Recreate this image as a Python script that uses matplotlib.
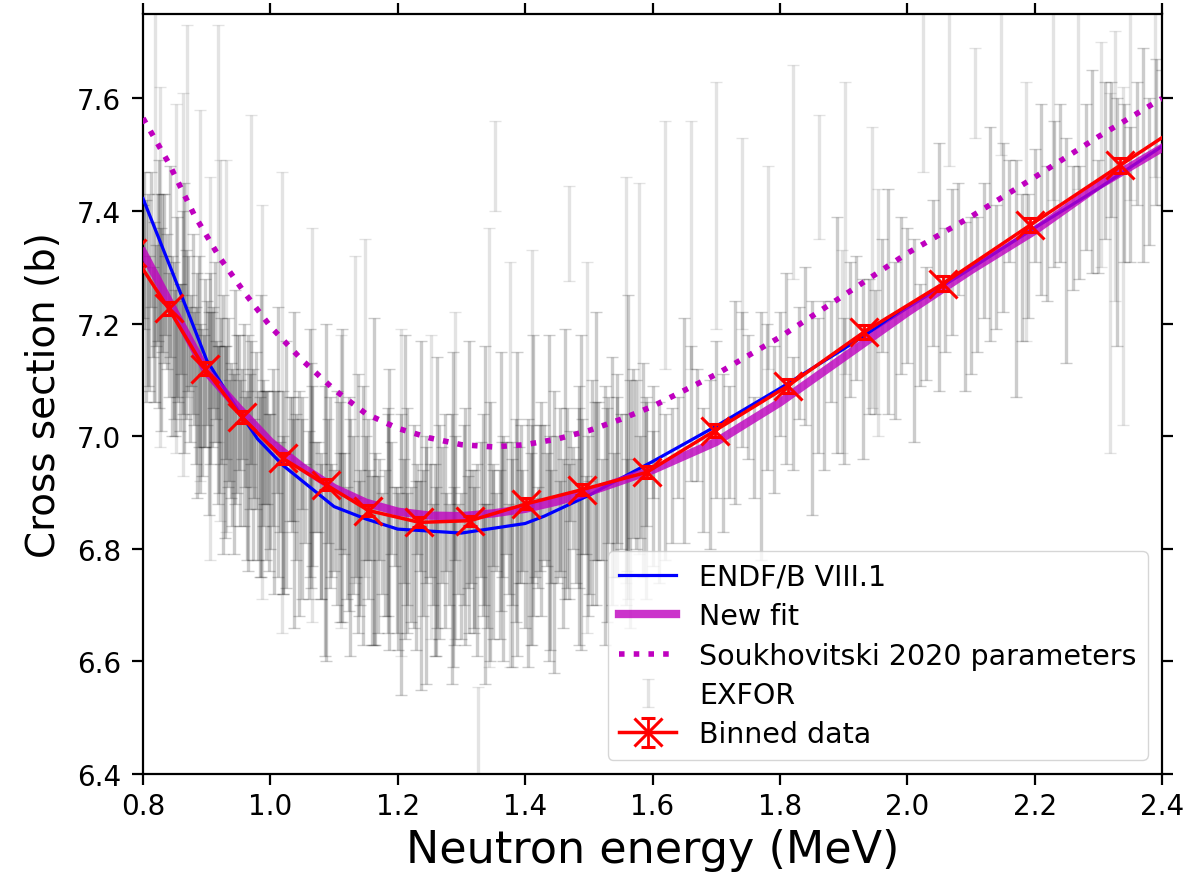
import numpy as np
import matplotlib
matplotlib.use('Agg')
import matplotlib.pyplot as plt

# ---- evaluated / model curves (MeV, barn) ----
endf_e = [0.80, 0.85, 0.90, 0.95, 0.98, 1.02, 1.10, 1.15, 1.20, 1.30, 1.40, 1.43,
          1.50, 1.60, 1.70, 1.80, 1.90, 2.00, 2.10, 2.20, 2.30, 2.40]
endf_s = [7.422, 7.280, 7.135, 7.045, 6.995, 6.948, 6.875, 6.853, 6.835, 6.828, 6.845, 6.858,
          6.895, 6.955, 7.018, 7.085, 7.155, 7.228, 7.298, 7.370, 7.440, 7.515]

fit_e = [0.80, 0.85, 0.90, 0.95, 1.00, 1.05, 1.10, 1.15, 1.20, 1.25, 1.30, 1.35,
         1.40, 1.45, 1.50, 1.60, 1.70, 1.80, 1.90, 2.00, 2.10, 2.20, 2.30, 2.40]
fit_s = [7.327, 7.220, 7.114, 7.050, 6.990, 6.945, 6.908, 6.882, 6.866, 6.859, 6.858, 6.863,
         6.871, 6.884, 6.901, 6.940, 6.990, 7.060, 7.140, 7.220, 7.295, 7.365, 7.445, 7.512]

souk_e = [0.80, 0.84, 0.88, 0.92, 0.96, 1.00, 1.05, 1.10, 1.15, 1.20, 1.25, 1.30, 1.35,
          1.40, 1.45, 1.50, 1.55, 1.60, 1.70, 1.80, 1.90, 2.00, 2.10, 2.20, 2.30, 2.40]
souk_s = [7.565, 7.486, 7.394, 7.318, 7.254, 7.195, 7.135, 7.083, 7.040, 7.014, 6.997, 6.985, 6.981,
          6.985, 6.995, 7.010, 7.030, 7.053, 7.110, 7.176, 7.250, 7.325, 7.390, 7.460, 7.532, 7.600]

# ---- binned experimental data ----
bin_e = [0.783, 0.840, 0.897, 0.955, 1.019, 1.087, 1.154, 1.234, 1.314, 1.402, 1.489,
         1.591, 1.698, 1.812, 1.932, 2.056, 2.193, 2.334, 2.480]
bin_s = [7.326, 7.227, 7.120, 7.034, 6.961, 6.914, 6.868, 6.847, 6.850, 6.880, 6.905,
         6.936, 7.010, 7.089, 7.185, 7.271, 7.375, 7.481, 7.590]
bin_d = [0.014, 0.012, 0.011, 0.010, 0.010, 0.010, 0.009, 0.009, 0.009, 0.010, 0.010,
         0.011, 0.011, 0.012, 0.012, 0.013, 0.013, 0.014, 0.016]

# ---- EXFOR sets ----
exA_e = [0.80, 0.81, 0.82, 0.83, 0.84, 0.85, 0.86, 0.87, 0.88, 0.89,
         0.90, 0.91, 0.92, 0.93, 0.94, 0.95, 0.96, 0.97, 0.98, 0.99,
         1.00, 1.01, 1.02, 1.03, 1.04, 1.05, 1.06, 1.07, 1.08, 1.09,
         1.10, 1.11, 1.12, 1.13, 1.14, 1.15, 1.16, 1.17, 1.18, 1.19,
         1.20, 1.21, 1.22, 1.23, 1.24, 1.25, 1.26, 1.27, 1.28, 1.29,
         1.30, 1.31, 1.32, 1.33, 1.34, 1.35, 1.36, 1.37, 1.38, 1.39,
         1.40, 1.41, 1.42, 1.43, 1.44, 1.45, 1.46, 1.47, 1.48, 1.49,
         1.50, 1.51, 1.52, 1.53, 1.54, 1.55, 1.56, 1.57, 1.58, 1.59, 1.60]
exA_s = [7.31, 7.20, 7.25, 7.29, 7.18, 7.13, 7.19, 7.20, 7.12, 7.05,
         7.13, 7.14, 7.03, 7.06, 6.98, 7.06, 6.99, 7.06, 6.93, 6.98,
         6.92, 6.99, 6.86, 6.96, 6.91, 6.97, 6.86, 6.91, 6.83, 6.92,
         6.85, 6.93, 6.81, 6.86, 6.82, 6.89, 6.78, 6.87, 6.81, 6.89,
         6.76, 6.85, 6.79, 6.87, 6.81, 6.85, 6.76, 6.86, 6.79, 6.89,
         6.77, 6.83, 6.80, 6.87, 6.77, 6.86, 6.79, 6.89, 6.83, 6.86,
         6.77, 6.88, 6.82, 6.90, 6.84, 6.87, 6.81, 6.93, 6.85, 6.91,
         6.82, 6.92, 6.87, 6.94, 6.86, 6.92, 6.86, 6.97, 6.91, 6.95, 6.89]
exA_d = [0.10, 0.12, 0.09, 0.14, 0.11, 0.13, 0.08, 0.12, 0.10, 0.15,
         0.11, 0.09, 0.13, 0.10, 0.14, 0.12, 0.08, 0.11, 0.15, 0.10,
         0.12, 0.09, 0.14, 0.11, 0.13, 0.10, 0.15, 0.08, 0.12, 0.11,
         0.09, 0.13, 0.10, 0.14, 0.12, 0.11, 0.15, 0.09, 0.13, 0.10,
         0.14, 0.11, 0.12, 0.08, 0.13, 0.10, 0.15, 0.12, 0.09, 0.11,
         0.13, 0.10, 0.14, 0.12, 0.11, 0.09, 0.15, 0.10, 0.13, 0.12,
         0.11, 0.14, 0.09, 0.12, 0.10, 0.13, 0.15, 0.08, 0.11, 0.12,
         0.10, 0.14, 0.09, 0.13, 0.11, 0.12, 0.10, 0.15, 0.09, 0.11, 0.12]

exB_e = [0.805, 0.825, 0.845, 0.865, 0.885, 0.905, 0.925, 0.945, 0.965, 0.985,
         1.005, 1.025, 1.045, 1.065, 1.085, 1.105, 1.125, 1.145, 1.165, 1.185,
         1.205, 1.225, 1.245, 1.265, 1.285, 1.305, 1.325, 1.345, 1.365, 1.385,
         1.405, 1.425, 1.445, 1.465, 1.485, 1.505, 1.525, 1.545, 1.565, 1.585]
exB_s = [7.24, 7.27, 7.16, 7.21, 7.09, 7.12, 7.02, 7.07, 6.97, 7.00,
         6.90, 6.95, 6.88, 6.93, 6.85, 6.89, 6.82, 6.86, 6.80, 6.85,
         6.79, 6.84, 6.78, 6.83, 6.80, 6.84, 6.78, 6.83, 6.80, 6.85,
         6.81, 6.87, 6.83, 6.89, 6.84, 6.90, 6.86, 6.93, 6.88, 6.94]
exB_d = [0.18, 0.22, 0.16, 0.24, 0.20, 0.17, 0.23, 0.19, 0.21, 0.25,
         0.18, 0.22, 0.20, 0.16, 0.24, 0.19, 0.21, 0.23, 0.17, 0.20,
         0.25, 0.18, 0.22, 0.19, 0.24, 0.21, 0.17, 0.23, 0.20, 0.18,
         0.22, 0.19, 0.25, 0.16, 0.21, 0.20, 0.23, 0.18, 0.22, 0.19]

exF_e = [0.815, 0.835, 0.855, 0.875, 0.895, 0.915, 0.935, 0.955, 0.975, 0.995,
         1.015, 1.035, 1.055, 1.075, 1.095, 1.115, 1.135, 1.155, 1.175, 1.195,
         1.215, 1.235, 1.255, 1.275, 1.295, 1.315, 1.335, 1.355, 1.375, 1.395,
         1.415, 1.435, 1.455, 1.475, 1.495]
exF_s = [7.22, 7.25, 7.15, 7.17, 7.08, 7.10, 7.01, 7.04, 6.96, 6.98,
         6.91, 6.94, 6.88, 6.91, 6.85, 6.88, 6.82, 6.86, 6.81, 6.84,
         6.80, 6.84, 6.79, 6.83, 6.80, 6.84, 6.79, 6.83, 6.80, 6.85,
         6.82, 6.87, 6.84, 6.89, 6.86]
exF_d = [0.08, 0.07, 0.09, 0.08, 0.10, 0.07, 0.09, 0.08, 0.07, 0.10,
         0.08, 0.09, 0.07, 0.08, 0.10, 0.09, 0.07, 0.08, 0.09, 0.07,
         0.10, 0.08, 0.09, 0.07, 0.08, 0.10, 0.09, 0.07, 0.08, 0.09,
         0.07, 0.10, 0.08, 0.09, 0.07]

# low-energy set, dense around 0.8-1.0 MeV
exG_e = [0.802, 0.808, 0.813, 0.818, 0.823, 0.828, 0.833, 0.838, 0.843, 0.848,
         0.853, 0.858, 0.863, 0.868, 0.873, 0.878, 0.883, 0.888, 0.893, 0.898,
         0.903, 0.908, 0.913, 0.918, 0.923, 0.928, 0.933, 0.938, 0.943, 0.948,
         0.953, 0.958, 0.963, 0.968, 0.973, 0.978, 0.983, 0.988, 0.993, 0.998]
exG_s = [7.33, 7.26, 7.35, 7.22, 7.30, 7.19, 7.28, 7.24, 7.31, 7.17,
         7.23, 7.14, 7.22, 7.18, 7.11, 7.20, 7.09, 7.15, 7.06, 7.13,
         7.04, 7.10, 7.15, 7.02, 7.08, 6.99, 7.06, 7.01, 6.95, 7.04,
         6.97, 7.02, 6.93, 6.99, 6.95, 7.01, 6.91, 6.97, 6.93, 6.90]
exG_d = [0.14, 0.17, 0.12, 0.16, 0.13, 0.18, 0.15, 0.12, 0.17, 0.14,
         0.16, 0.13, 0.18, 0.15, 0.12, 0.16, 0.14, 0.17, 0.13, 0.15,
         0.18, 0.12, 0.16, 0.14, 0.13, 0.17, 0.15, 0.12, 0.16, 0.14,
         0.13, 0.18, 0.15, 0.12, 0.17, 0.14, 0.16, 0.13, 0.15, 0.14]

# mid-energy set, 1.0-1.6 MeV
exH_e = [1.004, 1.019, 1.034, 1.049, 1.064, 1.079, 1.094, 1.109, 1.124, 1.139,
         1.154, 1.169, 1.184, 1.199, 1.214, 1.229, 1.244, 1.259, 1.274, 1.289,
         1.304, 1.319, 1.334, 1.349, 1.364, 1.379, 1.394, 1.409, 1.424, 1.439,
         1.454, 1.469, 1.484, 1.499, 1.514, 1.529, 1.544, 1.559, 1.574, 1.589]
exH_s = [6.98, 6.90, 6.95, 6.87, 6.93, 6.84, 6.90, 6.82, 6.88, 6.80,
         6.87, 6.79, 6.86, 6.78, 6.85, 6.77, 6.86, 6.78, 6.85, 6.77,
         6.86, 6.78, 6.86, 6.79, 6.87, 6.79, 6.88, 6.80, 6.89, 6.81,
         6.90, 6.83, 6.91, 6.84, 6.92, 6.86, 6.94, 6.87, 6.95, 6.89]
exH_d = [0.14, 0.18, 0.12, 0.16, 0.20, 0.13, 0.17, 0.15, 0.19, 0.12,
         0.16, 0.14, 0.18, 0.13, 0.20, 0.15, 0.12, 0.17, 0.19, 0.14,
         0.16, 0.13, 0.18, 0.15, 0.12, 0.20, 0.14, 0.17, 0.13, 0.19,
         0.15, 0.12, 0.18, 0.16, 0.14, 0.19, 0.13, 0.17, 0.15, 0.18]

# wide-uncertainty set, 1.0-1.56 MeV
exJ_e = [1.012, 1.037, 1.062, 1.087, 1.112, 1.137, 1.162, 1.187, 1.212, 1.237,
         1.262, 1.287, 1.312, 1.337, 1.362, 1.387, 1.412, 1.437, 1.462, 1.487,
         1.512, 1.537, 1.562]
exJ_s = [6.99, 6.94, 6.97, 6.90, 6.93, 6.88, 6.92, 6.87, 6.91, 6.86,
         6.90, 6.87, 6.91, 6.86, 6.92, 6.88, 6.93, 6.89, 6.95, 6.90,
         6.96, 6.92, 6.98]
exJ_d = [0.24, 0.28, 0.22, 0.30, 0.26, 0.23, 0.29, 0.25, 0.27, 0.31,
         0.24, 0.28, 0.26, 0.30, 0.23, 0.27, 0.25, 0.29, 0.24, 0.28,
         0.26, 0.22, 0.27]

exC_e = [1.60, 1.62, 1.64, 1.66, 1.68, 1.70, 1.72, 1.74, 1.76, 1.78,
         1.80, 1.82, 1.84, 1.86, 1.88, 1.90, 1.92, 1.94, 1.96, 1.98,
         2.00, 2.02, 2.04, 2.06, 2.08, 2.10, 2.12, 2.14, 2.16, 2.18,
         2.20, 2.22, 2.24, 2.26, 2.28, 2.30, 2.32, 2.34, 2.36, 2.38, 2.40]
exC_s = [6.99, 6.91, 6.98, 7.04, 6.94, 7.03, 6.99, 7.10, 6.98, 7.07,
         7.11, 7.04, 7.16, 7.09, 7.15, 7.08, 7.21, 7.16, 7.25, 7.17,
         7.25, 7.18, 7.29, 7.26, 7.35, 7.25, 7.33, 7.30, 7.40, 7.30,
         7.41, 7.36, 7.45, 7.37, 7.46, 7.39, 7.51, 7.45, 7.52, 7.47, 7.53]
exC_d = [0.10, 0.13, 0.09, 0.12, 0.11, 0.14, 0.10, 0.12, 0.09, 0.13,
         0.11, 0.10, 0.14, 0.12, 0.09, 0.13, 0.11, 0.12, 0.10, 0.14,
         0.12, 0.09, 0.13, 0.11, 0.10, 0.14, 0.12, 0.11, 0.09, 0.13,
         0.10, 0.12, 0.14, 0.11, 0.13, 0.10, 0.12, 0.14, 0.11, 0.13, 0.12]

exD_e = [1.61, 1.65, 1.69, 1.73, 1.77, 1.81, 1.85, 1.89, 1.93, 1.97,
         2.01, 2.05, 2.09, 2.13, 2.17, 2.21, 2.25, 2.29, 2.33, 2.37]
exD_s = [6.90, 7.01, 6.95, 7.06, 7.00, 7.12, 7.05, 7.18, 7.12, 7.24,
         7.17, 7.30, 7.23, 7.36, 7.28, 7.42, 7.33, 7.47, 7.38, 7.50]
exD_d = [0.16, 0.20, 0.15, 0.18, 0.22, 0.17, 0.19, 0.21, 0.16, 0.20,
         0.18, 0.22, 0.15, 0.19, 0.21, 0.17, 0.20, 0.18, 0.22, 0.19]

exI_e = [1.63, 1.67, 1.71, 1.75, 1.79, 1.83, 1.87, 1.91, 1.95, 1.99,
         2.03, 2.07, 2.11, 2.15, 2.19, 2.23, 2.27, 2.31, 2.35, 2.39]
exI_s = [6.93, 7.02, 6.97, 7.07, 7.03, 7.13, 7.09, 7.19, 7.15, 7.25,
         7.20, 7.31, 7.27, 7.37, 7.32, 7.43, 7.38, 7.49, 7.43, 7.54]
exI_d = [0.12, 0.10, 0.14, 0.11, 0.13, 0.10, 0.15, 0.12, 0.11, 0.14,
         0.10, 0.13, 0.12, 0.15, 0.11, 0.13, 0.10, 0.14, 0.12, 0.13]

# sparse points with large uncertainties
exE_e = [0.819, 0.827, 0.851, 0.863, 0.869, 0.889, 0.905, 0.918, 0.921, 0.931,
         0.969, 0.987, 1.018, 1.065, 1.111, 1.133, 1.148, 1.205, 1.252, 1.290,
         1.326, 1.343, 1.352, 1.376, 1.410, 1.469, 1.497, 1.558, 1.579, 1.619,
         1.660, 1.700, 1.741, 1.781, 1.821, 1.862, 1.897, 1.902, 1.944, 1.954,
         2.024, 2.065, 2.106, 2.147, 2.187, 2.229, 2.268, 2.305, 2.318, 2.326,
         2.339, 2.350, 2.389]
exE_s = [7.42, 7.30, 7.28, 7.27, 7.40, 7.25, 7.12, 7.36, 7.17, 7.16,
         7.24, 7.06, 7.06, 7.02, 6.92, 7.03, 7.05, 6.90, 6.91, 6.93,
         6.30, 6.98, 7.48, 6.95, 6.98, 7.36, 6.98, 7.10, 7.12, 7.34,
         7.34, 7.41, 7.36, 7.30, 7.47, 7.46, 7.15, 7.37, 7.30, 7.22,
         7.66, 7.70, 7.61, 7.68, 7.40, 7.62, 7.66, 7.50, 7.29, 7.48,
         7.32, 7.62, 7.68]
exE_d = [0.36, 0.32, 0.31, 0.34, 0.33, 0.33, 0.34, 0.37, 0.32, 0.33,
         0.33, 0.35, 0.41, 0.35, 0.26, 0.29, 0.30, 0.29, 0.27, 0.29,
         0.255, 0.39, 0.08, 0.36, 0.35, 0.085, 0.33, 0.36, 0.33, 0.22,
         0.22, 0.22, 0.17, 0.18, 0.19, 0.11, 0.18, 0.26, 0.25, 0.22,
         0.19, 0.22, 0.08, 0.18, 0.23, 0.20, 0.22, 0.20, 0.32, 0.24,
         0.30, 0.20, 0.22]

dense_sets = [(exA_e, exA_s, exA_d), (exB_e, exB_s, exB_d), (exF_e, exF_s, exF_d),
              (exG_e, exG_s, exG_d), (exH_e, exH_s, exH_d), (exJ_e, exJ_s, exJ_d),
              (exC_e, exC_s, exC_d), (exD_e, exD_s, exD_d), (exI_e, exI_s, exI_d)]

fig = plt.figure(figsize=(12.04, 8.78), dpi=100)
ax = fig.add_axes([0.1188, 0.1173, 0.8463, 0.8656])

for e, s, d in dense_sets:
    ax.errorbar(e, s, yerr=d, fmt='none', ecolor='k', alpha=0.2,
                elinewidth=2.4, capsize=4, capthick=1.0, zorder=1)
ax.errorbar(exE_e, exE_s, yerr=exE_d, fmt='none', ecolor='k', alpha=0.11,
            elinewidth=2.4, capsize=4, capthick=1.0, zorder=1, label='EXFOR')

ax.plot(endf_e, endf_s, color='b', lw=2.3, label='ENDF/B VIII.1', zorder=3)
ax.plot(fit_e, fit_s, color='m', alpha=0.8, lw=6, label='New fit', zorder=4)
ax.plot(souk_e, souk_s, color='m', ls=':', lw=4, label='Soukhovitski 2020 parameters', zorder=3)
ax.errorbar(bin_e, bin_s, yerr=bin_d, fmt='-x', color='r', lw=2.5, ms=20, mew=2.2,
            capsize=5, elinewidth=2, label='Binned data', zorder=5)

ax.set_xlim(0.8, 2.4)
ax.set_ylim(6.4, 7.75)
ax.set_yticks([6.4, 6.6, 6.8, 7.0, 7.2, 7.4, 7.6])

ax.set_xlabel('Neutron energy (MeV)', fontsize=32, labelpad=6)
ax.set_ylabel('Cross section (b)', fontsize=28, labelpad=10)
ax.tick_params(axis='both', which='major', labelsize=20, length=8, width=1.6,
               direction='out', top=True, right=True)
ax.tick_params(axis='y', pad=8)
ax.tick_params(axis='x', pad=5)
for sp in ax.spines.values():
    sp.set_linewidth(1.6)

ax.legend(loc='lower right', fontsize=20.5, labelspacing=0.4)

fig.savefig('out.png', dpi=100)
